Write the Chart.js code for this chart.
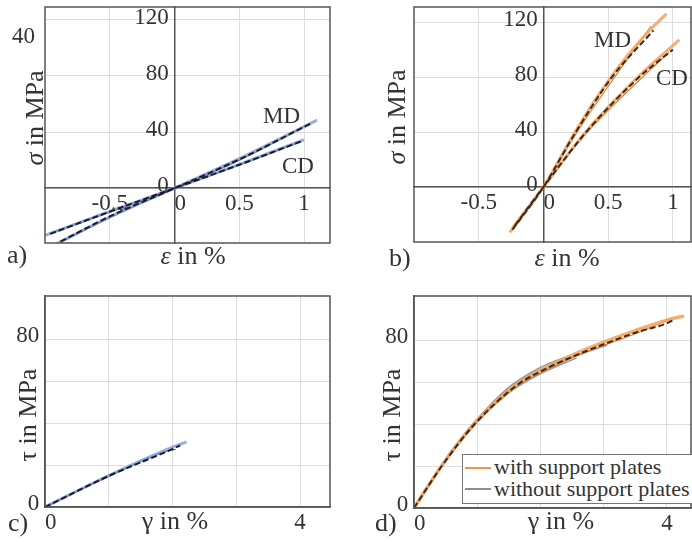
<!DOCTYPE html>
<html>
<head>
<meta charset="utf-8">
<script src="https://cdn.jsdelivr.net/npm/chart.js@4.4.1/dist/chart.umd.min.js"></script>
<style>
body { margin: 0; background: #fff; }
#wrap { position: relative; width: 692px; height: 542px; overflow: hidden; font-family: "Liberation Serif", serif; color: #333; }
canvas { position: absolute; left: 0; top: -30px; }
.t { position: absolute; line-height: 1; white-space: nowrap; }
.rot { position: absolute; line-height: 1; white-space: nowrap; transform: translate(-50%, -50%) rotate(-90deg); }
#legend { position: absolute; left: 462px; top: 454px; width: 250px; height: 48px; border: 1.5px solid #777; background: #fff; font-size: 22px; }
#legend .sw { position: absolute; left: 2px; width: 26px; height: 2px; }
#legend .lt { position: absolute; left: 31px; line-height: 1; white-space: nowrap; }
</style>
</head>
<body>
<div id="wrap">
  <canvas id="ca" width="692" height="572"></canvas>
  <canvas id="cb" width="692" height="572"></canvas>
  <canvas id="cc" width="692" height="572"></canvas>
  <canvas id="cd" width="692" height="572"></canvas>
  <div id="legend">
    <div class="sw" style="top:12px;background:#ee9550"></div>
    <div class="lt" style="top:1px">with support plates</div>
    <div class="sw" style="top:33px;background:#8a8f98"></div>
    <div class="lt" style="top:23px">without support plates</div>
  </div>
</div>
<script>
// a) tension MD / CD (blue)
const aMdMeanX = [-0.88, -0.5, 0, 0.5, 1.06];
const aMdMeanY = [-38, -20, 0, 20.5, 46.5];
const aMd1X = [-0.92, -0.5, 0, 0.5, 1.1];
const aMd1Y = [-40, -20.5, 0, 21, 48.5];
const aMd2X = [-0.85, -0.5, 0, 0.5, 1.04];
const aMd2Y = [-37, -21, 0, 20, 45.5];
const aCdMeanX = [-0.96, -0.5, 0, 0.5, 0.98];
const aCdMeanY = [-32.5, -16.7, 0, 16.7, 33.5];
const aCd1X = [-1.0, -0.5, 0, 0.5, 1.0];
const aCd1Y = [-33.5, -16.5, 0, 17, 34.5];
const aCd2X = [-0.95, -0.5, 0, 0.5, 0.97];
const aCd2Y = [-32, -17, 0, 16.5, 33];

// b) tension MD / CD (orange)
const bMdMeanX = [-0.24, 0, 0.25, 0.53, 0.85];
const bMdMeanY = [-31, 0, 40, 80, 114];
const bMd1X = [-0.26, 0, 0.25, 0.53, 0.8, 0.95];
const bMd1Y = [-33, 0, 41, 81, 112, 126];
const bMd2X = [-0.22, 0, 0.26, 0.55, 0.83];
const bMd2Y = [-29, 0, 40, 80, 117];
const bCdMeanX = [-0.22, 0, 0.33, 0.74, 1.0];
const bCdMeanY = [-28, 0, 40, 80, 100];
const bCd1X = [-0.24, 0, 0.33, 0.74, 1.05];
const bCd1Y = [-30, 0, 40.5, 81, 107];
const bCd2X = [-0.2, 0, 0.34, 0.76, 0.97];
const bCd2Y = [-26, 0, 40, 79.5, 98];

// c) shear (blue)
const cMeanX = [0, 1, 2, 2.12];
const cMeanY = [0, 14.8, 27.6, 29.3];
const c1X = [0, 1, 2, 2.22];
const c1Y = [0, 15, 28.5, 31];
const c2X = [0, 1, 1.95, 2.05];
const c2Y = [0, 14.6, 27, 27.5];

// d) shear with / without support plates
const dMeanX = [0, 0.44, 0.96, 1.65, 2, 2.5, 3, 3.5, 4, 4.1];
const dMeanY = [0, 20, 40, 59, 65, 72, 78, 83.5, 88, 89.5];
const dWith1X = [0, 0.44, 0.96, 1.65, 2, 2.5, 3, 3.5, 4, 4.27];
const dWith1Y = [0, 20.3, 40.5, 59.5, 65.5, 72.8, 79, 84.5, 89.5, 91.5];
const dWith2X = [0, 0.44, 0.96, 1.65, 2, 2.5, 3, 3.5, 4.05];
const dWith2Y = [0, 19.8, 39.5, 58.5, 64.5, 71.5, 77.5, 83, 90];
const dWo1X = [0, 0.44, 0.96, 1.65, 2, 2.5, 3.05];
const dWo1Y = [0, 20.3, 40.5, 60, 66, 72, 77.5];
const dWo2X = [0, 0.44, 0.96, 1.5, 2, 2.57];
const dWo2Y = [0, 20, 40, 55, 64, 71.5];
const dWo3X = [0, 0.44, 0.96, 1.5, 2, 2.4];
const dWo3Y = [0, 20.5, 41, 57.5, 67, 72];

// ticks
const abXTicks = [-0.5, 0, 0.5, 1];
const abYTicks = [0, 40, 80, 120];
const cdXTicks = [0, 1, 2, 3, 4];
const cdYTicks = [0, 20, 40, 60, 80];
const cdXLabels = [0, 4];
const cdYLabels = [0, 80];

const FONT = "Liberation Serif";
const blueLight = "rgba(125,155,215,0.8)";
const blueDark = "#3d5ea8";
const orangeLight = "rgba(243,165,98,0.9)";
const orangeDark = "#e67e2e";
const gray = "#8f949c";

function xy(xs, ys) {
    return xs.map((x, i) => ({ x: x, y: ys[i] }));
}

function line(xs, ys, color, width, dash) {
    return {
        data: xy(xs, ys),
        borderColor: color,
        borderWidth: width,
        borderDash: dash || [],
        showLine: true,
        pointRadius: 0,
        cubicInterpolationMode: "monotone",
        fill: false
    };
}

const frame = {
    id: "frame",
    afterDraw(chart) {
        const a = chart.chartArea;
        const ctx = chart.ctx;
        ctx.save();
        ctx.strokeStyle = "#555";
        ctx.lineWidth = 1.5;
        ctx.strokeRect(a.left, a.top, a.right - a.left, a.bottom - a.top);
        ctx.restore();
    }
};

function makePanel(id, box, xMin, xMax, yMin, yMax, xTicks, yTicks, xShow, yShow, yOff, datasets) {
    new Chart(document.getElementById(id), {
        type: "scatter",
        data: { datasets: datasets },
        options: {
            responsive: false,
            animation: false,
            layout: { padding: { left: box[0], top: box[1] + 30, right: 692 - box[2], bottom: 572 - 30 - box[3] } },
            plugins: { legend: { display: false }, tooltip: { enabled: false } },
            scales: {
                x: {
                    type: "linear", min: xMin, max: xMax, position: { y: 0 },
                    afterBuildTicks: (s) => { s.ticks = xTicks.map(v => ({ value: v })); },
                    grid: { color: "#dedede", lineWidth: 1, drawTicks: false },
                    border: { color: "#555", width: 1.5 },
                    ticks: {
                        color: "#333", font: { family: FONT, size: 23 }, padding: 2,
                        maxRotation: 0, autoSkip: false,
                        callback: (v) => xShow.includes(v) ? (v === 0 ? "\u00a0\u00a00" : String(v)) : ""
                    }
                },
                y: {
                    type: "linear", min: yMin, max: yMax, position: { x: 0 },
                    afterBuildTicks: (s) => { s.ticks = yTicks.map(v => ({ value: v })); },
                    grid: { color: "#dedede", lineWidth: 1, drawTicks: false },
                    border: { color: "#555", width: 1.5 },
                    ticks: {
                        color: "#333", font: { family: FONT, size: 23 }, padding: 0,
                        labelOffset: yOff, autoSkip: false,
                        callback: (v) => yShow.includes(v) ? String(v) + "\u00a0" : ""
                    }
                }
            }
        },
        plugins: [frame]
    });
}

const dash = [6, 3];

makePanel("ca", [45, 7, 330, 243], -1, 1.2, -39, 129, abXTicks, abYTicks, abXTicks, abYTicks, -2, [
    line(aMdMeanX, aMdMeanY, "#1c1c28", 2, dash),
    line(aCdMeanX, aCdMeanY, "#1c1c28", 2, dash),
    line(aMd1X, aMd1Y, blueLight, 3),
    line(aMd2X, aMd2Y, blueDark, 1.2),
    line(aCd1X, aCd1Y, blueLight, 3),
    line(aCd2X, aCd2Y, blueDark, 1.2)
]);

makePanel("cb", [414, 7, 691, 242], -1, 1.14, -40, 131, abXTicks, abYTicks, abXTicks, abYTicks, -2, [
    line(bMdMeanX, bMdMeanY, "#3a2a20", 2, dash),
    line(bCdMeanX, bCdMeanY, "#3a2a20", 2, dash),
    line(bMd1X, bMd1Y, orangeLight, 3),
    line(bMd2X, bMd2Y, orangeDark, 1.2),
    line(bCd1X, bCd1Y, orangeLight, 3),
    line(bCd2X, bCd2Y, orangeDark, 1.2)
]);

makePanel("cc", [45, 296, 330, 507], 0, 4.47, 0, 100.5, cdXTicks, cdYTicks, cdXLabels, cdYLabels, -3, [
    line(cMeanX, cMeanY, "#1c1c28", 2, dash),
    line(c1X, c1Y, blueLight, 3),
    line(c2X, c2Y, blueDark, 1.2)
]);

makePanel("cd", [414, 296, 691, 508], 0, 4.38, 0, 101, cdXTicks, cdYTicks, cdXLabels, cdYLabels, -3, [
    line(dMeanX, dMeanY, "#3a2a20", 2, dash),
    line(dWith1X, dWith1Y, orangeLight, 3.5),
    line(dWith2X, dWith2Y, orangeDark, 1.2),
    line(dWo1X, dWo1Y, gray, 1.5),
    line(dWo2X, dWo2Y, gray, 1.5),
    line(dWo3X, dWo3Y, gray, 1.5)
]);

// text
const wrap = document.getElementById("wrap");
function addText(html, x, baseline, size, center) {
    const d = document.createElement("div");
    d.className = "t";
    d.innerHTML = html;
    d.style.fontSize = size + "px";
    d.style.top = (baseline - 0.8375 * size) + "px";
    d.style.left = x + "px";
    if (center) d.style.transform = "translateX(-50%)";
    wrap.appendChild(d);
}
function addRot(html, cx, cy, size) {
    const d = document.createElement("div");
    d.className = "rot";
    d.innerHTML = html;
    d.style.fontSize = size + "px";
    d.style.left = cx + "px";
    d.style.top = cy + "px";
    wrap.appendChild(d);
}

addText("40", 12, 43, 23);
addText("MD", 263, 123, 23);
addText("CD", 282, 173, 23);
addText("MD", 594, 47, 23);
addText("CD", 656, 85, 23);

addText("a)", 7, 264, 26);
addText("b)", 389, 267, 26);
addText("c)", 8, 532, 26);
addText("d)", 375, 532, 26);

addText("<i>ε</i> in %", 193, 265, 26, true);
addText("<i>ε</i> in %", 567, 267, 26, true);
addText("γ in %", 175, 530, 26, true);
addText("γ in %", 561, 530, 26, true);

addRot("<i>σ</i> in MPa", 35, 118, 26);
addRot("<i>σ</i> in MPa", 397, 117, 26);
addRot("τ in MPa", 28, 415, 26);
addRot("τ in MPa", 392, 415, 26);

wrap.appendChild(document.getElementById("legend"));
</script>
</body>
</html>
